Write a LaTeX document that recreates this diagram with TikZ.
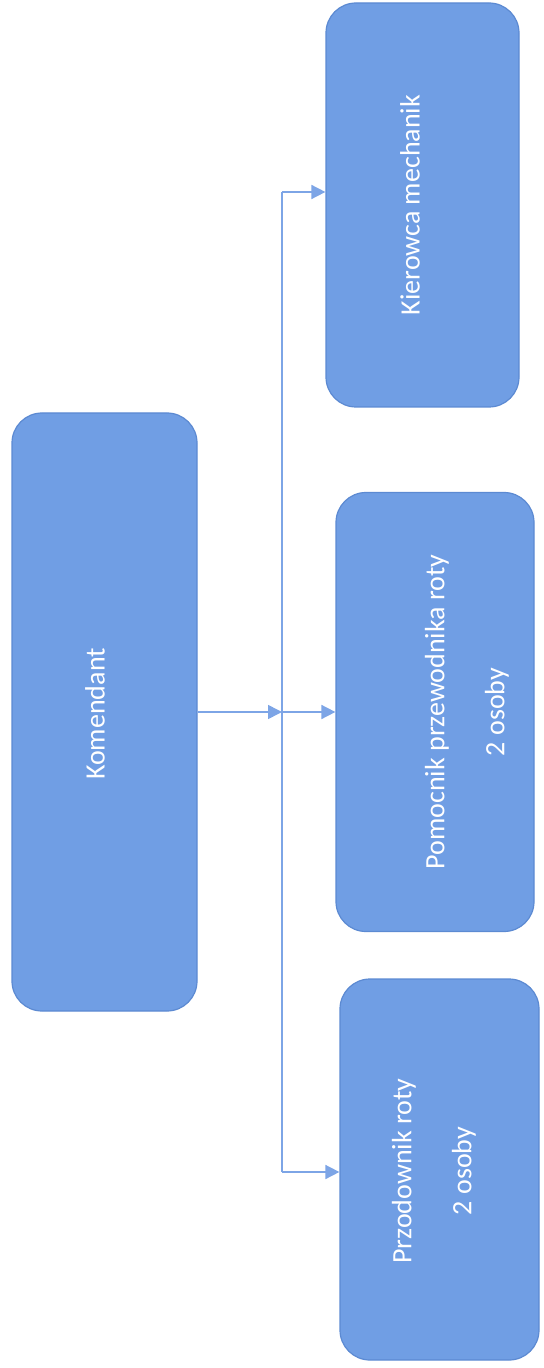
\documentclass[tikz,border=0pt]{standalone}
\usepackage{fontspec}
\setmainfont{Carlito}
\usetikzlibrary{arrows.meta}
\definecolor{ramka}{RGB}{92,138,210}
\definecolor{wypelnienie}{RGB}{112,158,228}
\definecolor{linia}{RGB}{125,165,230}
\tikzset{
  pole/.style={draw=ramka, fill=wypelnienie, line width=0.6pt, rounded corners=15pt},
  napis/.style={text=white, rotate=90, align=center, font=\fontsize{14}{30}\selectfont},
  laczenie/.style={draw=linia, line width=0.8pt},
  strzalka/.style={laczenie, -{Triangle[length=7pt,width=7pt]}},
}
\begin{document}
\begin{tikzpicture}[x=0.5pt, y=-0.5pt]
\useasboundingbox (0,0) rectangle (544,1368);
% pola
\node[pole, minimum width=92.5pt, minimum height=299pt] (kom) at (104.5,712) {};
\node[pole, minimum width=96.5pt, minimum height=202pt] (kier) at (422.5,205) {};
\node[pole, minimum width=99pt, minimum height=219.5pt] (pom) at (435,712) {};
\node[pole, minimum width=99.5pt, minimum height=190.5pt] (prz) at (439.5,1169.5) {};
% napisy
\node[napis] (komN) at (95,714) {Komendant};
\node[napis] (kierN) at (410,205) {Kierowca mechanik};
\node[napis] (pomN) at (467,712) {Pomocnik przewodnika roty\\2 osoby};
\node[napis] (przN) at (434,1171) {Przodownik roty\\2 osoby};
% polaczenia
\coordinate (srodek) at (282,712);
\coordinate (gora) at (282,192);
\coordinate (dol) at (282,1172);
\draw[laczenie] (gora) -- (dol);
\draw[strzalka] (kom.east) -- (srodek);
\draw[strzalka] (gora) -- (gora -| kier.west);
\draw[strzalka] (srodek) -- (pom.west);
\draw[strzalka] (dol) -- (dol -| prz.west);
\end{tikzpicture}
\end{document}
